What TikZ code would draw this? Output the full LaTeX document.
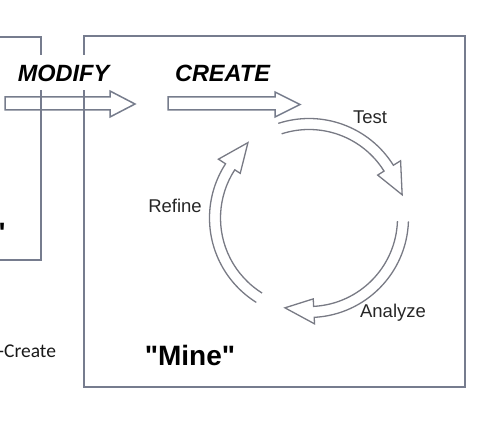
\documentclass[tikz,border=0pt]{standalone}
\usepackage{fontspec}
\setmainfont{Liberation Sans}
\newfontfamily\createfont{Carlito}
\newcommand\sq{\XeTeXglyph5 }
\definecolor{boxcol}{RGB}{118,124,142}
\definecolor{arrcol}{RGB}{118,124,140}
\definecolor{cyccol}{RGB}{120,122,132}
\tikzset{
  framebox/.style={draw=boxcol, line width=1.8pt},
  blockarrow/.style={draw=arrcol, line width=1.5pt, line join=miter},
  cyclearrow/.style={draw=cyccol, line width=1.3pt, line join=miter},
  headlabel/.style={font=\fontsize{23.5}{28}\selectfont\bfseries\itshape, inner sep=0pt, anchor=base},
  steplabel/.style={font=\fontsize{18.5}{22}\selectfont, inner sep=0pt, anchor=base, text=black!85},
}
\begin{document}
\begin{tikzpicture}[x=1pt,y=1pt]
\useasboundingbox (0,0) rectangle (480,-425);
% boxes
\draw[framebox] (-5,-37) -- (41,-37) -- (41,-260) -- (-5,-260);
\draw[framebox] (84,-36) rectangle (465,-387);
% partial text of the left box
\node[font=\fontsize{28}{32}\selectfont\bfseries, inner sep=0pt, anchor=base west] (lefttxt) at (-7.5,-243) {\sq};
\node[font=\createfont\fontsize{19.5}{22}\selectfont, inner sep=0pt, anchor=base west, text=black!90] (create) at (-2,-357) {-Create};
% headings
\node[headlabel, fill=white, text height=27pt, text depth=8pt, inner xsep=3pt] (modify) at (63.5,-82) {MODIFY};
\node[headlabel] (createh) at (222.5,-82) {CREATE};
% block arrows
\draw[blockarrow] (5,-97) -- (110,-97) -- (110,-91) -- (135,-104) -- (110,-117) -- (110,-110) -- (5,-110) -- cycle;
\draw[blockarrow] (168,-97) -- (275,-97) -- (275,-92) -- (300,-104.5) -- (275,-117) -- (275,-110) -- (168,-110) -- cycle;
% cycle
\coordinate (c) at (309,-218);
\begin{scope}[shift={(c)}]
\draw[cyclearrow] (108:99.5) arc[start angle=108, end angle=32, radius=99.5]
  -- (32:108) -- (14:96) -- (32:81) -- (32:88.5)
  arc[start angle=32, end angle=108, radius=88.5];
\draw[cyclearrow] (-2:99.5) arc[start angle=-2, end angle=-87, radius=99.5]
  -- (-87:106) -- (-105:93) -- (-87:81) -- (-87:88.5)
  arc[start angle=-87, end angle=-2, radius=88.5];
\draw[cyclearrow] (238:99.5) arc[start angle=238, end angle=147, radius=99.5]
  -- (147:108) -- (129:97) -- (147:82) -- (147:88.5)
  arc[start angle=147, end angle=238, radius=88.5];
\end{scope}
\node[steplabel] (test) at (370,-124) {Test};
\node[steplabel] (analyze) at (393,-318) {Analyze};
\node[steplabel] (refine) at (175,-213) {Refine};
\node[font=\fontsize{28}{32}\selectfont\bfseries, inner sep=0pt, anchor=base] (mine) at (190,-365) {\sq Mine\sq};
\end{tikzpicture}
\end{document}
